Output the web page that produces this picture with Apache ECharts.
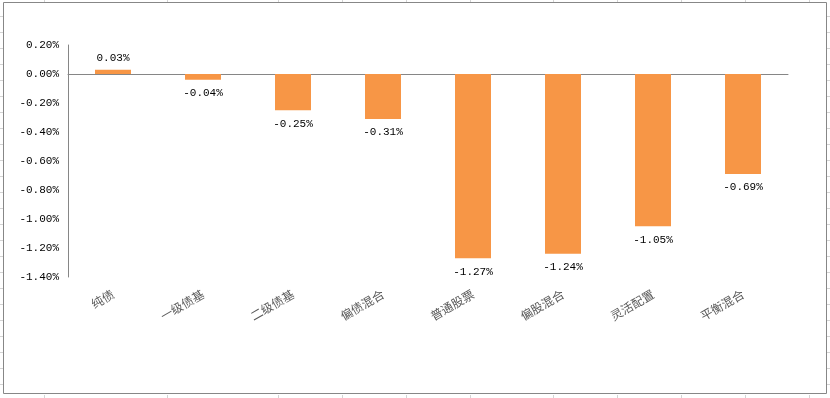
<!DOCTYPE html>
<html lang="zh">
  <head>
    <meta charset="UTF-8" />
    <title>ECharts</title>
    <script src="https://cdn.jsdelivr.net/npm/echarts@6/dist/echarts.min.js"></script>
    <style>
      html, body { margin: 0; padding: 0; background: #fff; }
    </style>
  </head>

  <body>
    <div id="main" style="width: 830px; height: 398px"></div>

    <script type="text/javascript">
      // 数据
      var categories = ["纯债", "一级债基", "二级债基", "偏债混合", "普通股票", "偏股混合", "灵活配置", "平衡混合"];
      var returns = [0.03, -0.04, -0.25, -0.31, -1.27, -1.24, -1.05, -0.69];
      var yTicks = [0.2, 0, -0.2, -0.4, -0.6, -0.8, -1.0, -1.2, -1.4];

      var numFont = "Liberation Mono";
      var cjkFont = "Noto Sans CJK SC";

      // 表格背景的刻度线（模拟 Excel 单元格）
      var colTicks = [44, 167, 278, 342, 406, 470, 553, 617, 681, 745, 809];
      var deco = [];
      colTicks.forEach(function (x) {
        deco.push({ type: "line", shape: { x1: x + 0.5, y1: 0, x2: x + 0.5, y2: 2 }, style: { stroke: "#d4d4d4", lineWidth: 1 } });
        deco.push({ type: "line", shape: { x1: x + 0.5, y1: 395, x2: x + 0.5, y2: 398 }, style: { stroke: "#d4d4d4", lineWidth: 1 } });
      });
      for (var y = 16; y < 395; y += 16) {
        deco.push({ type: "line", shape: { x1: 0, y1: y + 0.5, x2: 3, y2: y + 0.5 }, style: { stroke: "#d4d4d4", lineWidth: 1 } });
        deco.push({ type: "line", shape: { x1: 827, y1: y + 0.5, x2: 830, y2: y + 0.5 }, style: { stroke: "#d4d4d4", lineWidth: 1 } });
      }
      deco.push({
        type: "rect",
        shape: { x: 3.5, y: 2.5, width: 823, height: 391 },
        style: { fill: null, stroke: "#878787", lineWidth: 1 },
        z: 10
      });

      var myChart = echarts.init(document.getElementById("main"));

      var option = {
        animation: false,
        backgroundColor: "#fff",
        graphic: deco,
        grid: { left: 68, right: 42, top: 45, bottom: 121, containLabel: false },
        xAxis: [
          {
            // 零线
            type: "category",
            data: categories,
            axisLine: { onZero: true, lineStyle: { color: "#868686", width: 1 } },
            axisTick: { show: false },
            axisLabel: { show: false }
          },
          {
            // 底部类目标签
            type: "category",
            data: categories,
            position: "bottom",
            axisLine: { show: false, onZero: false },
            axisTick: { show: false },
            axisLabel: {
              rotate: 30,
              margin: 16,
              color: "#595959",
              fontFamily: cjkFont,
              fontSize: 12
            }
          }
        ],
        yAxis: {
          type: "value",
          min: -1.4,
          max: 0.2,
          interval: 0.2,
          axisLine: { show: true, lineStyle: { color: "#868686" } },
          axisTick: { show: false },
          splitLine: { show: false },
          axisLabel: {
            margin: 9,
            color: "#000",
            fontFamily: numFont,
            fontSize: 11,
            formatter: function (v) { return v.toFixed(2) + "%"; }
          }
        },
        series: [
          {
            type: "bar",
            xAxisIndex: 0,
            barWidth: "40%",
            itemStyle: { color: "#F79646" },
            data: returns.map(function (v) {
              return {
                value: v,
                label: {
                  show: true,
                  position: v >= 0 ? "top" : "bottom",
                  distance: v >= 0 ? 6 : 8,
                  color: "#000",
                  fontFamily: numFont,
                  fontSize: 11,
                  formatter: function (p) { return p.value.toFixed(2) + "%"; }
                }
              };
            })
          }
        ]
      };

      myChart.setOption(option);
    </script>
  </body>
</html>
